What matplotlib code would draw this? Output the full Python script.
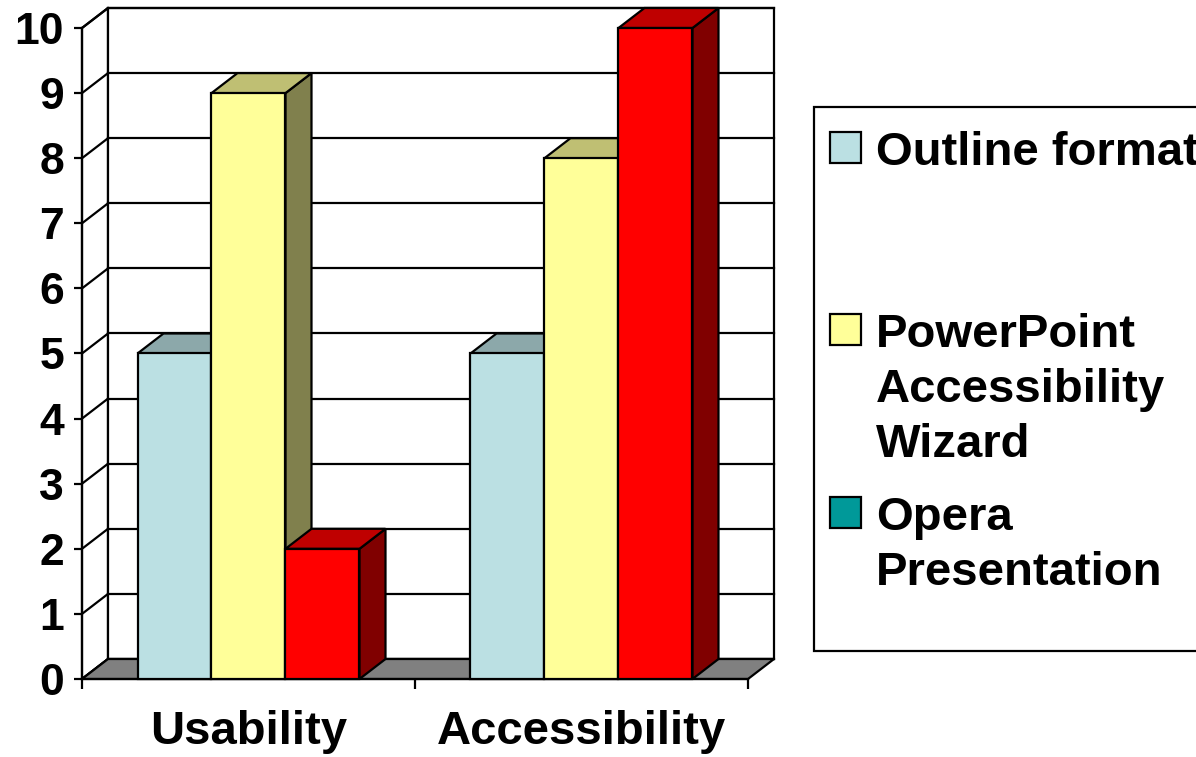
import matplotlib
matplotlib.use("Agg")
import matplotlib.pyplot as plt
from matplotlib.patches import Rectangle, Polygon
import numpy as np

plt.rcParams['font.family'] = ['Liberation Sans', 'DejaVu Sans']
plt.rcParams['font.weight'] = 'bold'

# ---- data ----
categories = ["Usability", "Accessibility"]
series_names = ["Outline format", "PowerPoint\nAccessibility\nWizard", "Opera\nPresentation"]
outline_format = [5, 5]
powerpoint_wizard = [9, 8]
opera_presentation = [2, 10]
y_ticks = list(range(0, 11))

series_values = [outline_format, powerpoint_wizard, opera_presentation]
bar_colors = ["#BBE0E3", "#FFFF99", "#FF0000"]
legend_colors = ["#BBE0E3", "#FFFF99", "#009999"]

W, H = 1196, 757
fig = plt.figure(figsize=(W / 100, H / 100), dpi=100)
fig.patch.set_facecolor("white")

# front plane of the 3-D plot in pixels
L, R, B, T = 82, 748, 679, 28
ax = fig.add_axes([L / W, (H - B) / H, (R - L) / W, (B - T) / H])
ax.set_xlim(0, len(categories))
ax.set_ylim(0, 10)
ax.set_facecolor("none")

# depth offsets in data units
DX = 26 / ((R - L) / len(categories))
DY = 20 / ((B - T) / 10)

LW = 1.6

def shade(c, f):
    rgb = np.array(matplotlib.colors.to_rgb(c))
    return tuple(rgb * f)

ncat = len(categories)
# side wall (left)
ax.add_patch(Polygon([(0, 0), (DX, DY), (DX, 10 + DY), (0, 10)], closed=True,
                     facecolor="white", edgecolor="black", lw=LW, clip_on=False, zorder=1))
# back wall
ax.add_patch(Rectangle((DX, DY), ncat, 10, facecolor="white", edgecolor="black",
                       lw=LW, clip_on=False, zorder=1))
for yv in y_ticks:
    ax.plot([DX, ncat + DX], [yv + DY, yv + DY], color="black", lw=LW, clip_on=False, zorder=1.5)
    ax.plot([0, DX], [yv, yv + DY], color="black", lw=LW, clip_on=False, zorder=1.5)
# floor
ax.add_patch(Polygon([(0, 0), (ncat, 0), (ncat + DX, DY), (DX, DY)], closed=True,
                     facecolor="#808080", edgecolor="black", lw=LW, clip_on=False, zorder=2))

# bars
nser = len(series_values)
w = 1 / (nser + 1.5)
gap = 1.5 * w
z = 3
for c in range(ncat):
    for s in range(nser):
        v = series_values[s][c]
        col = bar_colors[s]
        x0 = c + gap / 2 + s * w
        ax.add_patch(Polygon([(x0 + w, 0), (x0 + w + DX, DY), (x0 + w + DX, v + DY), (x0 + w, v)],
                             closed=True, facecolor=shade(col, 0.5), edgecolor="black",
                             lw=LW, clip_on=False, zorder=z))
        ax.add_patch(Polygon([(x0, v), (x0 + w, v), (x0 + w + DX, v + DY), (x0 + DX, v + DY)],
                             closed=True, facecolor=shade(col, 0.75), edgecolor="black",
                             lw=LW, clip_on=False, zorder=z))
        ax.add_patch(Rectangle((x0, 0), w, v, facecolor=col, edgecolor="black",
                               lw=LW, clip_on=False, zorder=z + 0.5))
        z += 1

# axes styling
for sp in ["top", "right"]:
    ax.spines[sp].set_visible(False)
ax.spines["left"].set_linewidth(LW)
ax.spines["bottom"].set_linewidth(LW)
ax.spines["left"].set_zorder(20)
ax.set_yticks(y_ticks)
ax.set_yticklabels([str(t) for t in y_ticks], fontsize=32, fontweight="bold")
ax.tick_params(axis="y", direction="out", length=6, width=LW, pad=7)
ax.set_xticks(range(ncat + 1))
ax.set_xticklabels([])
ax.tick_params(axis="x", which="major", direction="out", length=7, width=LW)
ax.set_xticks([c + 0.5 for c in range(ncat)], minor=True)
ax.set_xticklabels(categories, minor=True, fontsize=34, fontweight="bold")
ax.tick_params(axis="x", which="minor", length=0, pad=22)

# legend (drawn manually to mimic the original layout)
def fx(x):
    return x / W

def fy(y):
    return 1 - y / H

fig.add_artist(Rectangle((fx(814), fy(651)), fx(1300) - fx(814), fy(107) - fy(651),
                         transform=fig.transFigure, facecolor="white", edgecolor="black",
                         lw=LW, clip_on=False))
entry_top = [148, 330, 513]
line_gap = 55
for i, (name, col) in enumerate(zip(series_names, legend_colors)):
    yc = entry_top[i]
    fig.add_artist(Rectangle((fx(830), fy(yc + 15)), fx(861) - fx(830), fy(yc - 16) - fy(yc + 15),
                             transform=fig.transFigure, facecolor=col, edgecolor="black", lw=LW))
    for j, line in enumerate(name.split("\n")):
        fig.text(fx(876), fy(yc + 17 + j * line_gap), line, fontsize=34, fontweight="bold",
                 va="baseline", ha="left")

fig.savefig("out.png", dpi=100, facecolor="white")
